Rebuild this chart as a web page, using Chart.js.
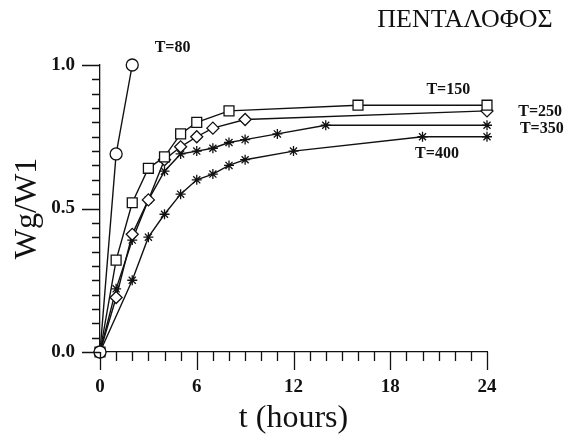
<!DOCTYPE html>
<html>
	<head>
		<meta charset="utf-8">
		<title>ΠΕΝΤΑΛΟΦΟΣ</title>
		<style>
		body {
			margin: 0;
			padding: 0;
			background-color: #fff;
		}
		</style>
		<script src="https://cdn.jsdelivr.net/npm/chart.js@4.4.0/dist/chart.umd.min.js"></script>
	</head>
	<body>
		<canvas id="chart" width="577" height="439"></canvas>
		<script>
			// time (hours) and Wg/W1 for each temperature
			var t80 = [0, 1, 2];
			var w80 = [0, 0.69, 1.0];
			var t150 = [0, 1, 2, 3, 4, 5, 6, 8, 16, 24];
			var w150 = [0, 0.32, 0.52, 0.64, 0.68, 0.76, 0.80, 0.84, 0.86, 0.86];
			var t250 = [0, 1, 2, 3, 4, 5, 6, 7, 9, 24];
			var w250 = [0, 0.19, 0.41, 0.53, 0.67, 0.715, 0.75, 0.78, 0.81, 0.84];
			var t350 = [0, 1, 2, 3, 4, 5, 6, 7, 8, 9, 11, 14, 24];
			var w350 = [0, 0.22, 0.39, 0.53, 0.63, 0.69, 0.70, 0.71, 0.73, 0.74, 0.76, 0.79, 0.79];
			var t400 = [0, 2, 3, 4, 5, 6, 7, 8, 9, 12, 20, 24];
			var w400 = [0, 0.25, 0.40, 0.48, 0.55, 0.60, 0.62, 0.65, 0.67, 0.70, 0.75, 0.75];
			var seriesNames = ['T=80', 'T=150', 'T=250', 'T=350', 'T=400'];
			var xTickLabels = [0, 6, 12, 18, 24];
			var yTickLabels = [0.0, 0.5, 1.0];
			var chartTitle = 'ΠΕΝΤΑΛΟΦΟΣ';

			function pts(t, w) {
				return t.map(function (v, i) { return {x: v, y: w[i]}; });
			}

			var serif = '"Liberation Serif", "DejaVu Serif", serif';

			function series(i, t, w, style, r) {
				return {
					label: seriesNames[i],
					data: pts(t, w),
					borderColor: '#111',
					borderWidth: 1.4,
					pointStyle: style,
					pointRadius: r,
					pointBorderWidth: 1.3,
					pointBorderColor: '#111',
					pointBackgroundColor: '#fff',
					tension: 0,
					fill: false,
					clip: false
				};
			}

			// series labels, placed in data units
			var labelSpots = [
				{x: 4.5, y: 1.06},
				{x: 21.6, y: 0.915},
				{x: 27.3, y: 0.835},
				{x: 27.4, y: 0.778},
				{x: 20.9, y: 0.69}
			];

			var extras = {
				id: 'extras',
				afterDraw: function (chart) {
					var ctx = chart.ctx;
					var xs = chart.scales.x, ys = chart.scales.y;
					var a = chart.chartArea;
					ctx.save();
					ctx.strokeStyle = '#111';
					ctx.lineWidth = 1.3;
					ctx.beginPath();
					// minor ticks every hour, major every 6
					for (var h = 0; h <= 24; h++) {
						var px = Math.round(xs.getPixelForValue(h)) + 0.5;
						ctx.moveTo(px, a.bottom);
						ctx.lineTo(px, a.bottom + (h % 6 === 0 ? 18 : 9));
					}
					// minor ticks every 0.05, major every 0.5
					for (var k = 0; k <= 20; k++) {
						var py = Math.round(ys.getPixelForValue(k * 0.05)) + 0.5;
						ctx.moveTo(a.left, py);
						ctx.lineTo(a.left - (k % 10 === 0 ? 18 : 8), py);
					}
					ctx.stroke();

					ctx.fillStyle = '#111';
					ctx.textAlign = 'center';
					ctx.textBaseline = 'middle';
					ctx.font = 'bold 16px ' + serif;
					seriesNames.forEach(function (n, i) {
						ctx.fillText(n, xs.getPixelForValue(labelSpots[i].x), ys.getPixelForValue(labelSpots[i].y));
					});
					ctx.font = '26px ' + serif;
					ctx.fillText(chartTitle, 465, 20);
					ctx.restore();
				}
			};

			new Chart(document.getElementById('chart'), {
				type: 'line',
				data: {
					datasets: [
						series(0, t80, w80, 'circle', 6),
						series(1, t150, w150, 'rect', 7),
						series(2, t250, w250, 'rectRot', 6),
						series(3, t350, w350, 'star', 5),
						series(4, t400, w400, 'star', 5)
					]
				},
				options: {
					responsive: false,
					animation: false,
					layout: {
						padding: {top: 65, right: 90, left: 0, bottom: 0}
					},
					plugins: {
						legend: {display: false},
						tooltip: {enabled: false}
					},
					scales: {
						x: {
							type: 'linear',
							min: 0,
							max: 24,
							afterFit: function (s) { s.height = 87; },
							afterBuildTicks: function (s) {
								s.ticks = xTickLabels.map(function (v) { return {value: v}; });
							},
							ticks: {
								padding: 24,
								color: '#111',
								maxRotation: 0,
								font: {family: serif, size: 19, weight: 'bold'}
							},
							grid: {display: true, drawOnChartArea: false, drawTicks: false},
							border: {display: true, color: '#111', width: 1.3},
							title: {
								display: true,
								text: 't (hours)',
								color: '#111',
								font: {family: serif, size: 32, lineHeight: 1},
								padding: {top: 0, bottom: 4}
							}
						},
						y: {
							type: 'linear',
							min: 0,
							max: 1,
							afterFit: function (s) { s.width = 100; },
							afterBuildTicks: function (s) {
								s.ticks = yTickLabels.map(function (v) { return {value: v}; });
							},
							ticks: {
								padding: 25,
								color: '#111',
								font: {family: serif, size: 19, weight: 'bold'},
								callback: function (v) { return v.toFixed(1); }
							},
							grid: {display: true, drawOnChartArea: false, drawTicks: false},
							border: {display: true, color: '#111', width: 1.3},
							title: {
								display: true,
								text: 'Wg/W1',
								color: '#111',
								font: {family: serif, size: 32, lineHeight: 1},
								padding: {top: 12, bottom: 0}
							}
						}
					}
				},
				plugins: [extras]
			});
		</script>
	</body>
</html>
